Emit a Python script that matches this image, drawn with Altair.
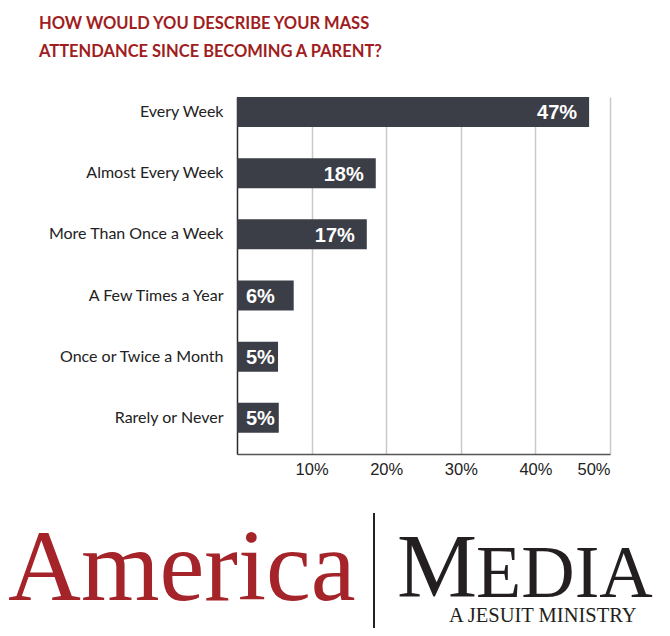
import altair as alt
import pandas as pd

categories = ["Every Week", "Almost Every Week", "More Than Once a Week",
              "A Few Times a Year", "Once or Twice a Month", "Rarely or Never"]
values = [47.2, 18.6, 17.4, 7.6, 5.5, 5.6]
labels = ["47%", "18%", "17%", "6%", "5%", "5%"]
tick_values = [10, 20, 30, 40, 50]
title_lines = ["HOW WOULD YOU DESCRIBE YOUR MASS",
               "ATTENDANCE SINCE BECOMING A PARENT?"]

df = pd.DataFrame({"cat": categories, "val": values, "lab": labels})

NARROW = "Lato"
SANS = "Liberation Sans, Arial, sans-serif"
SERIF = "Liberation Serif, Times New Roman, serif"
BAR = "#3b3e47"
RED = "#a01d21"

y_enc = alt.Y("cat:N", sort=categories, title=None,
              scale=alt.Scale(paddingInner=0.51, paddingOuter=0.173, align=0),
              axis=alt.Axis(labelFont=NARROW, labelFontSize=16, labelColor="#222",
                            labelPadding=14, ticks=False, domainColor="#2a2a2a",
                            domainWidth=1.5, labelLimit=300))
x_enc = alt.X("val:Q", title=None,
              scale=alt.Scale(domain=[0, 50], nice=False),
              axis=alt.Axis(values=tick_values, labelExpr="datum.value + '%'",
                            labelFont=SANS, labelFontSize=16.5, labelColor="#222",
                            ticks=False, labelPadding=7, domainColor="#555",
                            domainWidth=1.5, gridColor="#c9c9c9", gridWidth=1.5))

base = alt.Chart(df)
bars = base.mark_bar(color=BAR).encode(x=x_enc, y=y_enc)

big = base.transform_filter("datum.val >= 10").mark_text(
    align="right", baseline="middle", dx=-12, dy=1.5, color="white",
    font=SANS, fontWeight="bold", fontSize=20
).encode(x="val:Q", y=alt.Y("cat:N", sort=categories), text="lab:N")

small = base.transform_filter("datum.val < 10").mark_text(
    align="left", baseline="middle", dx=9, dy=1.5, color="white",
    font=SANS, fontWeight="bold", fontSize=20
).encode(x=alt.datum(0), y=alt.Y("cat:N", sort=categories), text="lab:N")

one = alt.Data(values=[{"a": 1}])

title = alt.Chart(one).mark_text(
    text=title_lines, align="left", baseline="alphabetic", lineHeight=28,
    font=NARROW, fontWeight="bold", fontSize=16.5, color=RED
).encode(x=alt.value(-198), y=alt.value(-68))

america = alt.Chart(one).mark_text(
    text="America", align="left", baseline="alphabetic",
    font=SERIF, fontSize=101, color="#a4242a"
).encode(x=alt.value(-229), y=alt.value(503))

sep = alt.Chart(one).mark_rule(color="#222", strokeWidth=2).encode(
    x=alt.value(137), y=alt.value(416), y2=alt.value(531))

m_big = alt.Chart(one).mark_text(
    text="M", align="left", baseline="alphabetic",
    font=SERIF, fontSize=90, color="#231f20"
).encode(x=alt.value(160), y=alt.value(500))

edia = alt.Chart(one).mark_text(
    text="EDIA", align="left", baseline="alphabetic",
    font=SERIF, fontSize=74, color="#231f20"
).encode(x=alt.value(239), y=alt.value(500))

jesuit = alt.Chart(one).mark_text(
    text="A JESUIT MINISTRY", align="left", baseline="alphabetic",
    font=SERIF, fontSize=20.5, color="#231f20"
).encode(x=alt.value(212), y=alt.value(525))

chart = alt.layer(bars, big, small, title, america, sep, m_big, edia, jesuit).properties(
    width=373, height=357,
    padding={"left": 229, "top": 89, "right": 52, "bottom": 174},
    autosize=alt.AutoSizeParams(type="none"),
    background="white"
).configure_view(stroke=None)

chart.save("out.html", embed_options={"renderer": "svg", "actions": False})
